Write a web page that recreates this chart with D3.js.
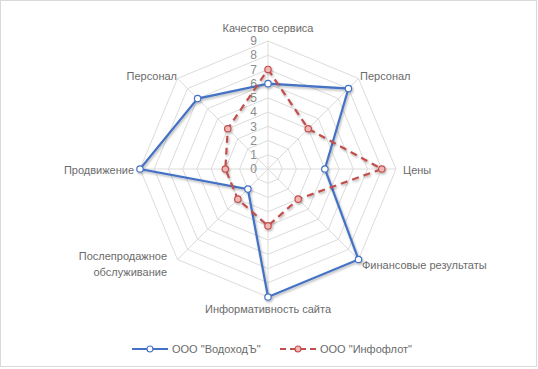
<!DOCTYPE html>
<html>
<head>
<meta charset="utf-8">
<script src="https://cdn.jsdelivr.net/npm/d3@7"></script>
<style>
  body { margin: 0; background: #fff; }
  text { font-family: "Liberation Sans", Arial, sans-serif; fill: #6b6b6b; }
</style>
</head>
<body>
<div id="chart"></div>
<script>
var categories = ["Качество сервиса", "Персонал", "Цены", "Финансовые результаты",
                  "Информативность сайта", "Послепродажное обслуживание", "Продвижение", "Персонал"];
var vodohod = [6, 8, 4, 9, 9, 2, 9, 7];
var infoflot = [7, 4, 8, 3, 4, 3, 3, 4];
var seriesNames = ["ООО \"ВодоходЪ\"", "ООО \"Инфофлот\""];
var ticks = [0, 1, 2, 3, 4, 5, 6, 7, 8, 9];

var width = 538;
var height = 369;
var cx = 268, cy = 169;

var svg = d3.select("#chart")
    .append("svg")
      .attr("width", width)
      .attr("height", height);

svg.append("rect")
    .attr("x", 0.5).attr("y", 0.5)
    .attr("width", width - 2).attr("height", height - 3)
    .attr("fill", "#fff")
    .attr("stroke", "#d9d9d9");

var defs = svg.append("defs");
var shadow = defs.append("filter").attr("id", "shadow")
    .attr("x", "-10%").attr("y", "-10%").attr("width", "120%").attr("height", "120%");
shadow.append("feDropShadow")
    .attr("dx", 1).attr("dy", 1.5).attr("stdDeviation", 1)
    .attr("flood-color", "#000").attr("flood-opacity", 0.3);

var r = d3.scaleLinear().domain([0, 9]).range([0, 128]);
var angle = d3.scalePoint().domain(d3.range(categories.length))
    .range([0, 2 * Math.PI * (categories.length - 1) / categories.length]);

function pt(i, v) {
  var a = angle(i);
  return [cx + r(v) * Math.sin(a), cy - r(v) * Math.cos(a)];
}

var g = svg.append("g");

// grid octagons
g.selectAll("polygon.grid")
  .data(ticks.slice(1))
  .enter()
  .append("polygon")
    .attr("class", "grid")
    .attr("points", function(t) {
      return categories.map(function(c, i) { return pt(i, t).join(","); }).join(" ");
    })
    .attr("fill", "none")
    .attr("stroke", "#dcdcdc")
    .attr("stroke-width", 1);

// spokes
g.selectAll("line.spoke")
  .data(categories)
  .enter()
  .append("line")
    .attr("x1", cx).attr("y1", cy)
    .attr("x2", function(d, i) { return pt(i, 9)[0]; })
    .attr("y2", function(d, i) { return pt(i, 9)[1]; })
    .attr("stroke", "#dcdcdc")
    .attr("stroke-width", 1);

// tick labels
g.selectAll("text.tick")
  .data(ticks)
  .enter()
  .append("text")
    .attr("x", cx - 11)
    .attr("y", function(t) { return cy - r(t); })
    .attr("dy", "0.35em")
    .attr("text-anchor", "end")
    .style("font-size", "12px")
    .style("fill", "#8c8c8c")
    .text(function(t) { return t; });

// category labels
var labelPos = [
  {x: 268, y: 28, anchor: "middle"},
  {x: 360, y: 76, anchor: "start"},
  {x: 403, y: 170, anchor: "start"},
  {x: 362, y: 265, anchor: "start"},
  {x: 268, y: 309, anchor: "middle"},
  {x: 167, y: 256, anchor: "end"},
  {x: 134, y: 170, anchor: "end"},
  {x: 177, y: 76, anchor: "end"}
];
categories.forEach(function(c, i) {
  var p = labelPos[i];
  var t = svg.append("text")
      .attr("x", p.x).attr("y", p.y)
      .attr("dy", "0.35em")
      .attr("text-anchor", p.anchor)
      .style("font-size", "11px");
  if (c === "Послепродажное обслуживание") {
    t.append("tspan").attr("x", p.x).text("Послепродажное");
    t.append("tspan").attr("x", p.x).attr("dy", "1.45em").text("обслуживание");
  } else {
    t.text(c);
  }
});

var line = d3.lineRadial()
    .angle(function(d, i) { return angle(i); })
    .radius(function(d) { return r(d); })
    .curve(d3.curveLinearClosed);

var series = [
  {name: seriesNames[0], values: vodohod, color: "#4472c4", dash: null, markerFill: "#fff"},
  {name: seriesNames[1], values: infoflot, color: "#c0504d", dash: "7,5", markerFill: "#f2b8b6"}
];

series.forEach(function(s) {
  var sg = svg.append("g").attr("filter", "url(#shadow)");
  sg.append("path")
      .attr("transform", "translate(" + cx + "," + cy + ")")
      .attr("d", line(s.values))
      .attr("fill", "none")
      .attr("stroke", s.color)
      .attr("stroke-width", 2.2)
      .attr("stroke-dasharray", s.dash);
  sg.selectAll("circle")
    .data(s.values)
    .enter()
    .append("circle")
      .attr("cx", function(d, i) { return pt(i, d)[0]; })
      .attr("cy", function(d, i) { return pt(i, d)[1]; })
      .attr("r", 3.2)
      .attr("fill", s.markerFill)
      .attr("stroke", s.color)
      .attr("stroke-width", 1.2);
});

// legend
var legendX = [132, 280];
series.forEach(function(s, i) {
  var lg = svg.append("g").attr("transform", "translate(" + legendX[i] + ",349)");
  lg.append("line")
      .attr("x1", 0).attr("x2", 36).attr("y1", 0).attr("y2", 0)
      .attr("stroke", s.color).attr("stroke-width", 2)
      .attr("stroke-dasharray", s.dash ? "6,4" : null);
  lg.append("circle")
      .attr("cx", 18).attr("cy", 0).attr("r", 3)
      .attr("fill", s.markerFill).attr("stroke", s.color).attr("stroke-width", 1.2);
  lg.append("text")
      .attr("x", 40).attr("y", 0).attr("dy", "0.35em")
      .style("font-size", "11px")
      .text(s.name);
});
</script>
</body>
</html>
